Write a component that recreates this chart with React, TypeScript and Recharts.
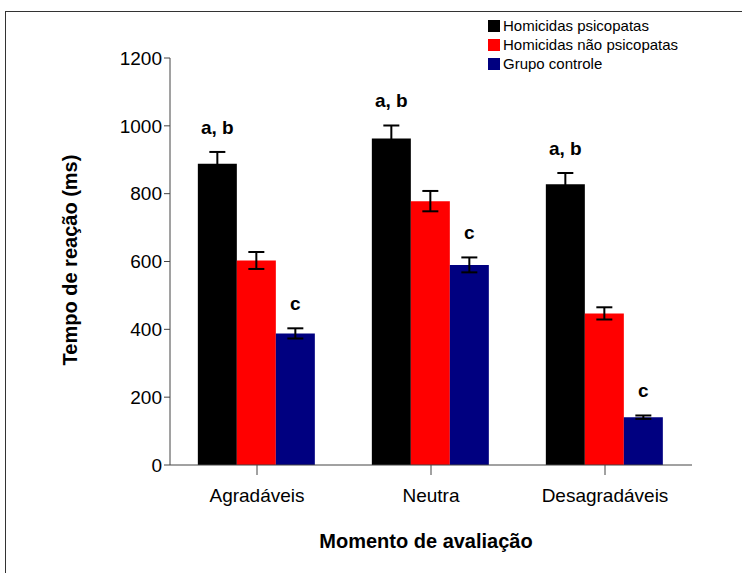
import { Bar, BarChart, ErrorBar, LabelList, XAxis, YAxis } from 'recharts';

const categories = ['Agradáveis', 'Neutra', 'Desagradáveis'];
const psicopatas = [888, 963, 828];
const psicopatasErr = [35, 38, 33];
const naoPsicopatas = [603, 778, 447];
const naoPsicopatasErr = [25, 30, 18];
const controle = [388, 590, 141];
const controleErr = [15, 22, 5];
const yTicks = [0, 200, 400, 600, 800, 1000, 1200];

const data = categories.map((c, i) => ({
  cat: c,
  psi: psicopatas[i],
  psiErr: psicopatasErr[i],
  nao: naoPsicopatas[i],
  naoErr: naoPsicopatasErr[i],
  ctl: controle[i],
  ctlErr: controleErr[i],
}));

const FONT = 'Liberation Sans, Arial, sans-serif';

// letter above bar, shifted past the error bar
function sigLabel(text: string, errs: number[]) {
  return (props: any) => {
    const { x, y, width, index } = props;
    const pxPerUnit = 407 / 1200;
    const top = y - errs[index] * pxPerUnit;
    return (
      <text x={x + width / 2} y={top - 18} textAnchor="middle" fontFamily={FONT}
        fontSize={19} fontWeight="bold" fill="#000">{text}</text>
    );
  };
}

const legend = [
  { label: 'Homicidas psicopatas', color: '#000000' },
  { label: 'Homicidas não psicopatas', color: '#ff0000' },
  { label: 'Grupo controle', color: '#000080' },
];

export default function App() {
  return (
    <div style={{ position: 'absolute', left: 0, top: 0, width: 742, height: 573, background: '#fff', overflow: 'hidden', fontFamily: FONT }}>
      <div style={{ position: 'absolute', left: 5, top: 11, width: 740, height: 570, border: '1.5px solid #333' }} />
      <BarChart width={742} height={573} data={data} barCategoryGap="16%" barGap={0}
        margin={{ top: 58, right: 50, bottom: 78, left: 110 }}>
        <XAxis dataKey="cat" stroke="#444" tick={{ fill: '#000', fontSize: 19, fontFamily: FONT }}
          tickSize={10} tickMargin={14} interval={0} />
        <YAxis domain={[0, 1200]} ticks={yTicks} width={60} stroke="#444" tickSize={6}
          tick={{ fill: '#000', fontSize: 19, fontFamily: FONT }} />
        <Bar dataKey="psi" fill="#000000" isAnimationActive={false}>
          <ErrorBar dataKey="psiErr" width={8} stroke="#000" strokeWidth={2} />
          <LabelList dataKey="psi" content={sigLabel('a, b', psicopatasErr)} />
        </Bar>
        <Bar dataKey="nao" fill="#ff0000" isAnimationActive={false}>
          <ErrorBar dataKey="naoErr" width={8} stroke="#000" strokeWidth={2} />
        </Bar>
        <Bar dataKey="ctl" fill="#000080" isAnimationActive={false}>
          <ErrorBar dataKey="ctlErr" width={8} stroke="#000" strokeWidth={2} />
          <LabelList dataKey="ctl" content={sigLabel('c', controleErr)} />
        </Bar>
      </BarChart>
      <div style={{ position: 'absolute', left: 70, top: 260, transform: 'translate(-50%, -50%) rotate(-90deg)', whiteSpace: 'nowrap', fontSize: 20, fontWeight: 'bold' }}>
        Tempo de reação (ms)
      </div>
      <div style={{ position: 'absolute', left: 426, top: 541, transform: 'translate(-50%, -50%)', whiteSpace: 'nowrap', fontSize: 20, fontWeight: 'bold' }}>
        Momento de avaliação
      </div>
      <div style={{ position: 'absolute', left: 488, top: 16, fontSize: 15, lineHeight: '19px' }}>
        {legend.map((l) => (
          <div key={l.label} style={{ display: 'flex', alignItems: 'center' }}>
            <span style={{ display: 'inline-block', width: 12, height: 12, background: l.color, marginRight: 3 }} />
            {l.label}
          </div>
        ))}
      </div>
    </div>
  );
}
